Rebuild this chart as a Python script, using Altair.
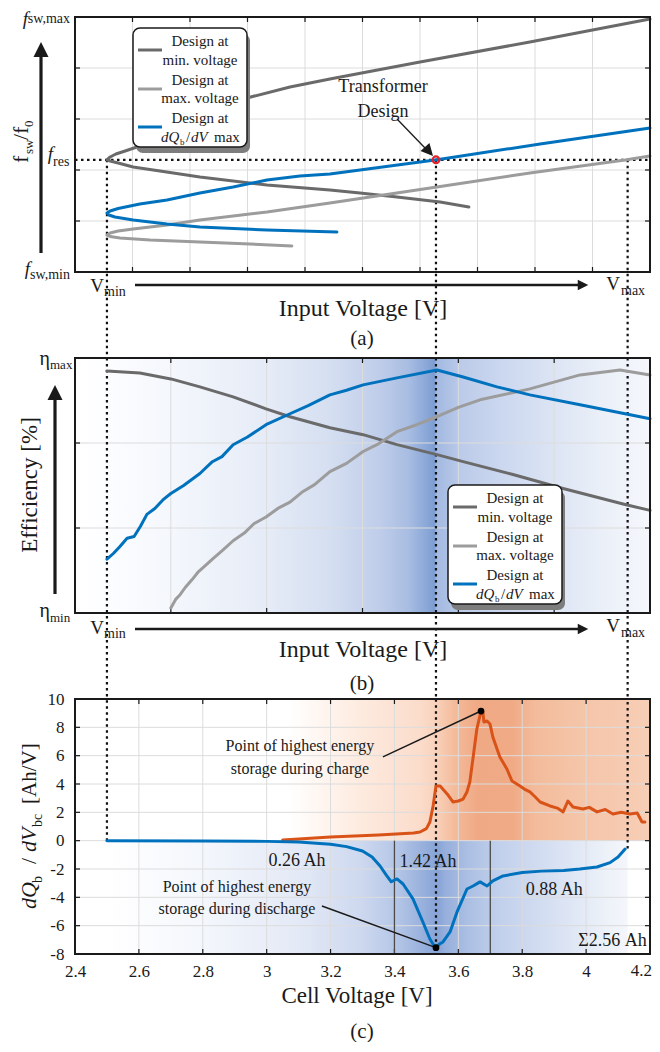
import altair as alt
import pandas as pd

FONT = "Liberation Serif"
INK = "#1a1a1a"
GRID = "#dcdcdc"
W, H = 575, 255
GAP = 86
XDOM = [2.4, 4.2]

C_MIN = "#6a6a6a"
C_MAX = "#9c9c9c"
C_DQ = "#0072bd"
C_CHG = "#d95319"

V_MIN, V_DES, V_MAX = 2.5, 3.53, 4.13
F_RES = 2.2

# ---------------- (a) switching frequency vs input voltage ----------------
a_min_v = [3.633, 3.543, 3.408, 3.292, 3.198, 3.001, 2.791, 2.666, 2.582, 2.535, 2.510, 2.500,
           2.510, 2.528, 2.557, 2.594, 2.666, 2.760, 2.854, 2.938, 3.073, 3.198, 3.480, 3.824, 4.200]
a_min_f = [1.275, 1.373, 1.471, 1.549, 1.608, 1.706, 1.863, 1.980, 2.059, 2.137, 2.176, 2.200,
           2.255, 2.314, 2.373, 2.451, 2.647, 2.902, 3.137, 3.412, 3.627, 3.784, 4.118, 4.510, 4.961]
a_max_v = [3.079, 2.948, 2.791, 2.635, 2.541, 2.510, 2.500, 2.510, 2.535, 2.582, 2.688, 2.791,
           3.001, 3.198, 3.533, 3.824, 4.122, 4.200]
a_max_f = [0.510, 0.549, 0.588, 0.627, 0.667, 0.696, 0.725, 0.765, 0.804, 0.843, 0.922, 1.020,
           1.176, 1.353, 1.667, 1.941, 2.196, 2.275]
a_dq_v = [3.220, 3.001, 2.791, 2.688, 2.582, 2.525, 2.506, 2.500, 2.510, 2.535, 2.603, 2.688,
          2.791, 2.895, 3.001, 3.104, 3.198, 3.533, 3.856, 4.200]
a_dq_f = [0.784, 0.824, 0.882, 0.941, 1.020, 1.078, 1.118, 1.157, 1.196, 1.245, 1.333, 1.412,
          1.549, 1.667, 1.804, 1.882, 1.922, 2.200, 2.510, 2.824]

# ---------------- (b) efficiency vs input voltage ----------------
b_min_v = [2.500, 2.603, 2.700, 2.791, 2.895, 2.998, 3.073, 3.198, 3.302, 3.408, 3.533, 3.615,
           3.771, 3.928, 4.122, 4.200]
b_min_e = [2.848, 2.824, 2.754, 2.660, 2.543, 2.402, 2.309, 2.180, 2.098, 1.981, 1.863, 1.781,
           1.629, 1.465, 1.277, 1.207]
b_max_v = [2.700, 2.715, 2.729, 2.745, 2.766, 2.785, 2.800, 2.832, 2.860, 2.895, 2.930, 2.960,
           2.998, 3.035, 3.073, 3.110, 3.150, 3.198, 3.250, 3.302, 3.350, 3.408, 3.470, 3.533,
           3.600, 3.668, 3.824, 3.981, 4.106, 4.200]
b_max_e = [0.059, 0.160, 0.215, 0.300, 0.390, 0.480, 0.530, 0.640, 0.730, 0.850, 0.940, 1.050,
           1.130, 1.230, 1.305, 1.420, 1.510, 1.664, 1.760, 1.900, 1.990, 2.133, 2.215, 2.309,
           2.420, 2.508, 2.637, 2.801, 2.859, 2.801]
b_dq_v = [2.500, 2.520, 2.540, 2.563, 2.585, 2.605, 2.625, 2.650, 2.675, 2.700, 2.740, 2.791,
          2.830, 2.860, 2.895, 2.940, 2.998, 3.073, 3.130, 3.198, 3.250, 3.302, 3.408, 3.533,
          3.615, 3.721, 3.824, 3.981, 4.122, 4.200]
b_dq_e = [0.633, 0.700, 0.780, 0.879, 0.900, 1.020, 1.160, 1.230, 1.330, 1.406, 1.500, 1.641,
          1.780, 1.840, 1.980, 2.070, 2.215, 2.344, 2.440, 2.566, 2.620, 2.684, 2.766, 2.859,
          2.777, 2.660, 2.566, 2.449, 2.344, 2.285]

# ---------------- (c) dQ/dV vs cell voltage ----------------
c_dis_v = [2.50, 2.80, 3.00, 3.10, 3.20, 3.25, 3.30, 3.33, 3.355, 3.375, 3.39, 3.408, 3.427,
           3.458, 3.489, 3.511, 3.522, 3.530, 3.541, 3.552, 3.574, 3.596, 3.627, 3.646, 3.668,
           3.690, 3.708, 3.740, 3.80, 3.86, 3.93, 3.98, 4.034, 4.075, 4.10, 4.122]
c_dis_y = [0.0, -0.02, -0.05, -0.10, -0.25, -0.42, -0.73, -1.15, -1.79, -2.45, -2.90, -2.70,
           -3.06, -4.11, -5.74, -6.94, -7.35, -7.55, -7.30, -7.15, -6.44, -5.03, -3.41, -3.20,
           -2.91, -3.20, -2.84, -2.49, -2.25, -2.15, -2.10, -2.00, -1.86, -1.55, -1.15, -0.59]
c_chg_v = [3.05, 3.20, 3.35, 3.46, 3.48, 3.50, 3.511, 3.521, 3.530, 3.543, 3.565, 3.583, 3.600,
           3.615, 3.627, 3.636, 3.647, 3.658, 3.671, 3.677, 3.680, 3.690, 3.699, 3.708, 3.730,
           3.752, 3.768, 3.793, 3.810, 3.824, 3.840, 3.856, 3.887, 3.910, 3.928, 3.943, 3.959,
           3.990, 4.010, 4.034, 4.060, 4.084, 4.110, 4.137, 4.160, 4.175, 4.184]
c_chg_y = [0.05, 0.26, 0.40, 0.54, 0.61, 0.85, 1.32, 2.45, 3.86, 3.86, 3.30, 2.73, 2.80, 2.94,
           3.44, 4.14, 6.00, 7.88, 9.15, 9.08, 8.38, 8.45, 8.24, 7.32, 5.91, 5.06, 4.21, 3.86,
           3.60, 3.44, 3.10, 2.73, 2.45, 2.30, 2.03, 2.80, 2.38, 2.24, 2.35, 2.03, 2.20, 1.88,
           2.00, 1.88, 1.95, 1.32, 1.32]
c_dot_v = [3.53, 3.671]
c_dot_y = [-7.55, 9.15]
c_sep_v = [3.4, 3.7]
c_note_v = [3.104, 3.104, 2.907, 2.907]
c_note_y = [6.68, 5.06, -3.27, -4.82]
c_note_t = ["Point of highest energy", "storage during charge",
            "Point of highest energy", "storage during discharge"]
c_ah_v = [3.095, 3.505, 3.90]
c_ah_y = [-1.43, -1.50, -3.48]
c_ah_t = ["0.26 Ah", "1.42 Ah", "0.88 Ah"]
c_sum_t = "\u03a32.56 Ah"
c_lead_x1 = [3.364, 3.173]
c_lead_y1 = [5.91, -4.61]
c_lead_x2 = [3.671, 3.53]
c_lead_y2 = [9.15, -7.55]

a_xgrid = [2.58, 2.76, 2.94, 3.12, 3.30, 3.48, 3.66, 3.84, 4.02]
a_ygrid = [1, 2, 3, 4]
b_xgrid = [2.7, 3.0, 3.3, 3.6, 3.9]
b_ygrid = [1, 2]
c_xgrid = [2.6, 2.8, 3.0, 3.2, 3.4, 3.6, 3.8, 4.0]
c_ygrid = [-6, -4, -2, 0, 2, 4, 6, 8]
c_xticks = [2.4, 2.6, 2.8, 3.0, 3.2, 3.4, 3.6, 3.8, 4.0, 4.2]
c_yticks = [-8, -6, -4, -2, 0, 2, 4, 6, 8, 10]

legend_lines = ["Design at", "min. voltage", "Design at", "max. voltage", "Design at"]

# ---------------- helpers ----------------
ONE = pd.DataFrame({"k": [0]})
DOTS = dict(color="#111111", strokeWidth=2.2, strokeDash=[2.5, 3.5])


def xsc():
    return alt.Scale(domain=XDOM, nice=False, zero=False)


def X(f, ax=None):
    return alt.X(f, type="quantitative", scale=xsc(), axis=ax)


def Y(f, dom, ax=None):
    return alt.Y(f, type="quantitative", scale=alt.Scale(domain=dom, nice=False, zero=False), axis=ax)


def ptext(s, x, y, size=14, align="center", baseline="middle", angle=None, italic=False, color=INK):
    kw = dict(text=s, align=align, baseline=baseline, font=FONT, fontSize=size, color=color)
    if angle is not None:
        kw["angle"] = angle
    if italic:
        kw["fontStyle"] = "italic"
    return alt.Chart(ONE).mark_text(**kw).encode(x=alt.value(x), y=alt.value(y))


def prule(x1, y1, x2, y2, color=INK, width=2.5, opacity=1):
    return alt.Chart(ONE).mark_rule(color=color, strokeWidth=width, strokeOpacity=opacity).encode(
        x=alt.value(x1), y=alt.value(y1), x2=alt.value(x2), y2=alt.value(y2))


TRI = "M0,-1L1,1L-1,1Z"


def phead(x, y, size, angle=0, color=INK):
    kw = dict(shape=TRI, size=size, filled=True, color=color, opacity=1, strokeWidth=0)
    if angle:
        kw["angle"] = angle
    return alt.Chart(ONE).mark_point(**kw).encode(x=alt.value(x), y=alt.value(y))


def prect(x1, y1, x2, y2, fill, stroke=None, sw=0, radius=0):
    kw = dict(fill=fill, strokeWidth=sw)
    if stroke:
        kw["stroke"] = stroke
    if radius:
        kw["cornerRadius"] = radius
    return alt.Chart(ONE).mark_rect(**kw).encode(
        x=alt.value(x1), x2=alt.value(x2), y=alt.value(y1), y2=alt.value(y2))


def frame():
    return alt.Chart(ONE).mark_rect(fillOpacity=0, stroke=INK, strokeWidth=2).encode(
        x=alt.value(0), x2=alt.value(W), y=alt.value(0), y2=alt.value(H))


def grad(stops):
    return alt.LinearGradient(gradient="linear", x1=0, x2=1, y1=0, y2=0,
                              stops=[alt.GradientStop(offset=o, color=c) for o, c in stops])


def grid_layers(xg, yg, dom, ax=None, ay=None, tick=5):
    dx = pd.DataFrame({"t": xg})
    dy = pd.DataFrame({"t": yg})
    xf = X("t", ax)
    yf = Y("t", dom, ay)
    return [
        alt.Chart(dx).mark_rule(color=GRID, strokeWidth=1).encode(x=xf, y=alt.value(0), y2=alt.value(H)),
        alt.Chart(dy).mark_rule(color=GRID, strokeWidth=1).encode(y=yf, x=alt.value(0), x2=alt.value(W)),
        alt.Chart(dx).mark_rule(color=INK, strokeWidth=1.2).encode(x=xf, y=alt.value(H), y2=alt.value(H - tick)),
        alt.Chart(dx).mark_rule(color=INK, strokeWidth=1.2).encode(x=xf, y=alt.value(0), y2=alt.value(tick)),
        alt.Chart(dy).mark_rule(color=INK, strokeWidth=1.2).encode(y=yf, x=alt.value(0), x2=alt.value(tick)),
        alt.Chart(dy).mark_rule(color=INK, strokeWidth=1.2).encode(y=yf, x=alt.value(W), x2=alt.value(W - tick)),
    ]


def curve(v, y, color, dom, ax=None, ay=None, width=3):
    df = pd.DataFrame({"v": v, "y": y, "o": list(range(len(v)))})
    return alt.Chart(df).mark_line(color=color, strokeWidth=width, strokeCap="round",
                                   strokeJoin="round").encode(
        x=X("v", ax), y=Y("y", dom, ay), order="o:Q")


def legend(x0, y0):
    out = [prect(x0 + 3, y0 + 6, x0 + 117, y0 + 125, "#7d7d7d", radius=7),
           prect(x0, y0, x0 + 114, y0 + 119, "#ffffff", stroke=INK, sw=1.5, radius=7)]
    for yy, c in zip([22, 61, 99], [C_MIN, C_MAX, C_DQ]):
        out.append(prule(x0 + 5, y0 + yy, x0 + 29, y0 + yy, color=c, width=3))
    for yy, s in zip([13, 32, 52, 70, 90], legend_lines):
        out.append(ptext(s, x0 + 67, y0 + yy, size=15))
    yb = y0 + 109 + 5
    out += [ptext("dQ", x0 + 28, yb, 15, "left", "alphabetic", italic=True),
            ptext("b", x0 + 47, yb + 3, 9, "left", "alphabetic"),
            ptext("/", x0 + 53, yb, 15, "left", "alphabetic"),
            ptext("dV", x0 + 58, yb, 15, "left", "alphabetic", italic=True),
            ptext("max", x0 + 81, yb, 15, "left", "alphabetic")]
    return out


def hv_arrows(vx, vtop, vbot, hy):
    return [prule(vx, vbot, vx, vtop + 14, width=3.2),
            phead(vx, vtop + 7.5, 225),
            prule(60, hy, 505, hy, width=2.5),
            phead(508, hy, 110, angle=90)]


def vlabels(ymin, ymax):
    return [ptext("V", 22, ymin, 19, "center", "alphabetic"),
            ptext("min", 29, ymin + 4, 14, "left", "alphabetic"),
            ptext("V", 538, ymax, 19, "center", "alphabetic"),
            ptext("max", 546, ymax + 5, 14, "left", "alphabetic")]


# ---------------- panel (a) ----------------
DA = [0, 5]
pa_layers = [prule(-67, -9, -66, -9, width=0.5, opacity=0)]
pa_layers += grid_layers(a_xgrid, a_ygrid, DA)
pa_layers.append(alt.Chart(pd.DataFrame({"y": [F_RES]})).mark_rule(**DOTS).encode(
    y=Y("y", DA), x=alt.value(0), x2=alt.value(W)))
pa_layers.append(alt.Chart(pd.DataFrame({"v": [V_MIN, V_DES, V_MAX], "y": [F_RES] * 3})).mark_rule(**DOTS).encode(
    x=X("v"), y=Y("y", DA), y2=alt.value(H + GAP)))
pa_layers += [curve(a_min_v, a_min_f, C_MIN, DA),
              curve(a_max_v, a_max_f, C_MAX, DA),
              curve(a_dq_v, a_dq_f, C_DQ, DA)]
pa_layers.append(alt.Chart(pd.DataFrame({"v": [V_DES], "y": [F_RES]})).mark_point(
    shape="circle", size=45, filled=False, color="#e3212b", strokeWidth=2.2, opacity=1).encode(
    x=X("v"), y=Y("y", DA)))
pa_layers += legend(58, 11)
pa_layers += [ptext("Transformer", 308, 70, 18), ptext("Design", 308, 95, 18),
              prule(322, 102, 350, 131, width=1.3), phead(354, 134.5, 144, angle=138)]
pa_layers.append(frame())
pa_layers += [ptext("f", -47, -7, 19, "right", "top", italic=True),
              ptext("sw,max", -5, 6, 14, "right", "alphabetic"),
              ptext("f", -22, 143, 19, "right", "alphabetic", italic=True),
              ptext("res", -22, 149, 14, "left", "alphabetic"),
              ptext("f", -45, 258, 19, "right", "alphabetic", italic=True),
              ptext("sw,min", -45, 262, 14, "left", "alphabetic")]
pa_layers += [ptext("f", -47, 146, 22, "left", "alphabetic", angle=270),
              ptext("sw", -42, 137, 13, "left", "alphabetic", angle=270),
              ptext("/f", -47, 123, 22, "left", "alphabetic", angle=270),
              ptext("0", -42, 110, 13, "left", "alphabetic", angle=270)]
pa_layers += hv_arrows(-34, 25, 236, 268)
pa_layers += vlabels(275, 273)
pa_layers += [ptext("Input Voltage [V]", 288, 299, 24, "center", "alphabetic"),
              ptext("(a)", 287, 328, 21, "center", "alphabetic")]
panel_a = alt.layer(*pa_layers).properties(width=W, height=H)

# ---------------- panel (b) ----------------
DB = [0, 3]
B_STOPS = [(0.0, "#ffffff"), (0.056, "#fcfdff"), (0.165, "#f4f7fc"), (0.33, "#e6ecf7"),
           (0.443, "#d5dff1"), (0.53, "#bfcdea"), (0.58, "#a8bde2"), (0.605, "#90acda"),
           (0.625, "#7d9dd2"), (0.629, "#a3b9e1"), (0.66, "#b4c6e7"), (0.672, "#bccbe9"),
           (0.74, "#cbd7ef"), (0.83, "#dce4f4"), (0.92, "#ebf0f8"), (1.0, "#f5f7fc")]
pb_layers = [prect(0, 0, W, H, grad(B_STOPS))]
pb_layers += grid_layers(b_xgrid, b_ygrid, DB)
pb_layers.append(alt.Chart(pd.DataFrame({"v": [V_MIN, V_DES, V_MAX]})).mark_rule(**DOTS).encode(
    x=X("v"), y=alt.value(0), y2=alt.value(H + GAP)))
pb_layers += [curve(b_min_v, b_min_e, C_MIN, DB),
              curve(b_max_v, b_max_e, C_MAX, DB),
              curve(b_dq_v, b_dq_e, C_DQ, DB)]
pb_layers += legend(373, 127)
pb_layers.append(frame())
pb_layers += [ptext("\u03b7", -25, 7, 20, "right", "alphabetic"),
              ptext("max", -25, 11, 13, "left", "alphabetic"),
              ptext("\u03b7", -25, 259, 20, "right", "alphabetic"),
              ptext("min", -25, 264, 13, "left", "alphabetic"),
              ptext("Efficiency [%]", -45, 127, 23, "center", "middle", angle=270)]
pb_layers += hv_arrows(-20, 27, 236, 271)
pb_layers += vlabels(276, 274)
pb_layers += [ptext("Input Voltage [V]", 288, 299, 24, "center", "alphabetic"),
              ptext("(b)", 287, 332, 21, "center", "alphabetic")]
panel_b = alt.layer(*pb_layers).properties(width=W, height=H)

# ---------------- panel (c) ----------------
DC = [-8, 10]
AXC = alt.Axis(values=c_xticks, labelExpr="datum.value == 4.2 ? '' : datum.value + ''", grid=False,
               ticks=False, domain=False, labelPadding=9, labelFont=FONT, labelFontSize=17,
               labelColor=INK, labelFlush=False, title=None)
AYC = alt.Axis(values=c_yticks, labelExpr="datum.value + ''", grid=False, ticks=False, domain=False,
               labelPadding=11, labelFont=FONT, labelFontSize=17, labelColor=INK, labelFlush=False,
               title=None)
O_STOPS = [(0.0, "#ffffff"), (0.37, "#ffffff"), (0.5, "#fdeade"), (0.6, "#fbdccb"),
           (0.625, "#f9d3bd"), (0.66, "#f4bb9b"), (0.7, "#f0a985"), (0.76, "#f0aa85"),
           (0.8, "#f3bb9b"), (0.88, "#f5c5a9"), (1.0, "#f7ceb6")]
BL_STOPS = [(0.0, "#ffffff"), (0.18, "#f4f7fc"), (0.37, "#e3e9f6"), (0.49, "#cdd8ef"),
            (0.56, "#b3c5e6"), (0.6, "#9cb3de"), (0.635, "#86a3d6"), (0.65, "#97afdc"),
            (0.69, "#aabee3"), (0.75, "#c0cfeb"), (0.86, "#d8e1f3"), (0.95, "#ebf0f8"),
            (1.0, "#f4f6fb")]
bands = pd.DataFrame({"x1": [2.4], "x2": [4.2], "y1": [0], "y2": [10]})
bandb = pd.DataFrame({"x1": [V_MIN], "x2": [V_MAX], "y1": [-8], "y2": [0]})
pc_layers = [
    alt.Chart(bands).mark_rect(fill=grad(O_STOPS), strokeWidth=0).encode(
        x=X("x1", AXC), x2=alt.X2("x2"), y=Y("y1", DC, AYC), y2=alt.Y2("y2")),
    alt.Chart(bandb).mark_rect(fill=grad(BL_STOPS), strokeWidth=0).encode(
        x=X("x1", AXC), x2=alt.X2("x2"), y=Y("y1", DC, AYC), y2=alt.Y2("y2")),
]
pc_layers += grid_layers(c_xgrid, c_ygrid, DC, AXC, AYC)
pc_layers.append(alt.Chart(pd.DataFrame({"v": c_sep_v, "a": [0, 0], "b": [-8, -8]})).mark_rule(
    color="#4a4a4a", strokeWidth=1.3).encode(
    x=X("v", AXC), y=Y("a", DC, AYC), y2=alt.Y2("b")))
pc_layers.append(alt.Chart(pd.DataFrame({"v": [V_MIN, V_DES, V_MAX], "ye": [0, -7.55, -0.55]})).mark_rule(
    **DOTS).encode(x=X("v", AXC), y=Y("ye", DC, AYC), y2=alt.value(0)))
pc_layers += [curve(c_chg_v, c_chg_y, C_CHG, DC, AXC, AYC),
              curve(c_dis_v, c_dis_y, C_DQ, DC, AXC, AYC)]
pc_layers.append(alt.Chart(pd.DataFrame({"x1": c_lead_x1, "y1": c_lead_y1, "x2": c_lead_x2,
                                         "y2": c_lead_y2})).mark_rule(color=INK, strokeWidth=1.5).encode(
    x=X("x1", AXC), y=Y("y1", DC, AYC), x2=alt.X2("x2"), y2=alt.Y2("y2")))
pc_layers.append(alt.Chart(pd.DataFrame({"v": c_dot_v, "y": c_dot_y})).mark_point(
    shape="circle", size=45, filled=True, color="#000000", opacity=1).encode(
    x=X("v", AXC), y=Y("y", DC, AYC)))
pc_layers.append(alt.Chart(pd.DataFrame({"v": c_note_v, "y": c_note_y, "t": c_note_t})).mark_text(
    font=FONT, fontSize=16, color=INK).encode(x=X("v", AXC), y=Y("y", DC, AYC), text="t:N"))
pc_layers.append(alt.Chart(pd.DataFrame({"v": c_ah_v, "y": c_ah_y, "t": c_ah_t})).mark_text(
    font=FONT, fontSize=18, color=INK).encode(x=X("v", AXC), y=Y("y", DC, AYC), text="t:N"))
pc_layers.append(alt.Chart(pd.DataFrame({"v": [4.19], "y": [-7.08], "t": [c_sum_t]})).mark_text(
    font=FONT, fontSize=18, color=INK, align="right").encode(x=X("v", AXC), y=Y("y", DC, AYC), text="t:N"))
pc_layers.append(frame())
pc_layers += [ptext("4.2", 577, H + 9, 17, "right", "top"),
              ptext("dQ", -39, 210, 22, "left", "alphabetic", angle=270, italic=True),
              ptext("b", -33, 184, 14, "left", "alphabetic", angle=270),
              ptext("/", -39, 165, 22, "left", "alphabetic", angle=270),
              ptext("dV", -39, 153, 22, "left", "alphabetic", angle=270, italic=True),
              ptext("bc", -33, 128, 14, "left", "alphabetic", angle=270),
              ptext("[Ah/V]", -39, 105, 21, "left", "alphabetic", angle=270),
              ptext("Cell Voltage [V]", 282, 304, 23, "center", "alphabetic"),
              ptext("(c)", 287, 339, 21, "center", "alphabetic")]
panel_c = alt.layer(*pc_layers).properties(width=W, height=H)

chart = alt.vconcat(panel_a, panel_b, panel_c, spacing=GAP, bounds="flush").properties(
    padding=0).configure_view(strokeWidth=0)

chart.save("out.html", embed_options={"renderer": "svg", "actions": False})
